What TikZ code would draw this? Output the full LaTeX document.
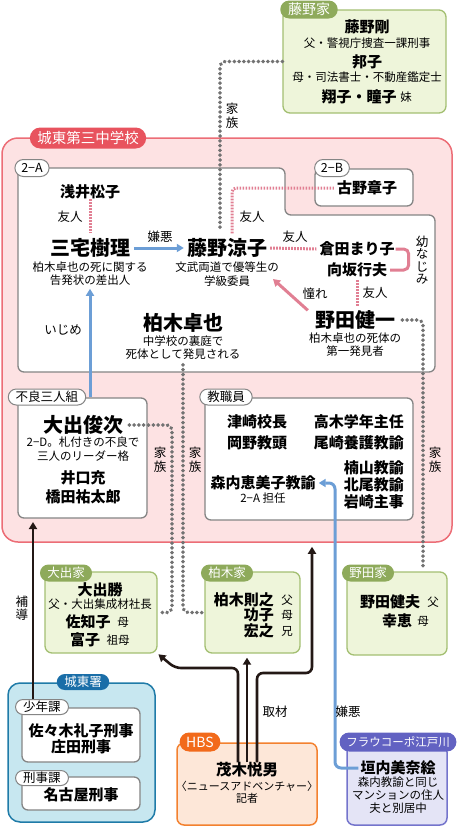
\documentclass[tikz,border=0pt]{standalone}
\usepackage{fontspec}
\setmainfont{Noto Sans CJK JP}
\usetikzlibrary{arrows.meta,shapes.misc}

\definecolor{schoolfill}{HTML}{FDE2E3}
\definecolor{schoolline}{HTML}{EC6D76}
\definecolor{schooltag}{HTML}{E8535E}
\definecolor{boxline}{HTML}{858585}
\definecolor{greenfill}{HTML}{EEF5DA}
\definecolor{greenline}{HTML}{A3BF72}
\definecolor{greentag}{HTML}{8EAA5B}
\definecolor{policefill}{HTML}{C7E7F0}
\definecolor{policeline}{HTML}{1F7BA8}
\definecolor{policetag}{HTML}{1A6EA8}
\definecolor{hbsfill}{HTML}{FDE7D8}
\definecolor{hbsline}{HTML}{F3812F}
\definecolor{hbstag}{HTML}{F26A1B}
\definecolor{fraufill}{HTML}{E4E4F6}
\definecolor{frauline}{HTML}{7474CC}
\definecolor{frautag}{HTML}{6262C2}
\definecolor{friendpink}{HTML}{E17F93}
\definecolor{hateblue}{HTML}{6C9ED6}
\definecolor{familygray}{HTML}{727272}
\definecolor{inkblack}{HTML}{231815}

\newcommand{\jfs}[2]{\fontsize{#1}{#2}\selectfont}

\begin{document}
\begin{tikzpicture}[x=1pt, y=-1pt,
    >={Triangle[length=7pt, width=8pt]},
    bigname/.style={font=\bfseries\jfs{20}{22}, inner sep=0pt},
    midname/.style={font=\bfseries\jfs{15}{17}, inner sep=0pt},
    note/.style={font=\jfs{11.5}{13.5}, align=center, inner sep=0pt},
    lbl/.style={font=\jfs{12.5}{13.5}, align=center, inner sep=0pt},
    tag/.style={rounded rectangle, inner xsep=5pt, inner ysep=0pt, minimum height=17pt, font=\jfs{12.5}{13}},
    whitetag/.style={tag, draw=boxline, fill=white, line width=1pt},
    colortag/.style={tag, fill=#1, text=white},
    schoolbox/.style={draw=schoolline, fill=schoolfill, line width=1.5pt, rounded corners=16pt},
    classbox/.style={draw=boxline, fill=white, line width=1.3pt, rounded corners=6pt},
    familybox/.style={draw=greenline, fill=greenfill, line width=1.3pt, rounded corners=7pt},
    policebox/.style={draw=policeline, fill=policefill, line width=1.5pt, rounded corners=12pt},
    hbsbox/.style={draw=hbsline, fill=hbsfill, line width=1.5pt, rounded corners=7pt},
    fraubox/.style={draw=frauline, fill=fraufill, line width=1.5pt, rounded corners=7pt},
    yujin/.style={draw=friendpink, line width=3pt, dash pattern=on 1.6pt off 1.4pt},
    osana/.style={draw=friendpink, line width=3pt, rounded corners=5pt},
    akogare/.style={draw=friendpink, line width=3pt, ->},
    kazoku/.style={draw=familygray, line width=3.8pt, dash pattern=on 0.2pt off 4.6pt, line cap=round, rounded corners=5pt},
    kenoarrow/.style={draw=hateblue, line width=3pt, ->, rounded corners=6pt},
    shuzai/.style={draw=inkblack, line width=2.6pt, ->, rounded corners=6pt}]
    \useasboundingbox (0,0) rectangle (456,827);

    % 枠
    \node[schoolbox, minimum width=450, minimum height=404] (school) at (227,340) {};
    \draw[classbox] (18,168) -- (285,168) -- (285,215) -- (435,215) -- (435,372) -- (18,372) -- cycle;
    \node[classbox, minimum width=98, minimum height=37] (classb) at (364,187.5) {};
    \node[classbox, minimum width=129, minimum height=120] (furyo) at (82.5,458) {};
    \node[classbox, minimum width=208, minimum height=122] (staff) at (309,459) {};
    \node[familybox, minimum width=163, minimum height=103] (fujinoke) at (364.5,61.5) {};
    \node[familybox, minimum width=112, minimum height=81] (oideke) at (101,612.5) {};
    \node[familybox, minimum width=95, minimum height=81] (kashiwagike) at (252.5,612.5) {};
    \node[familybox, minimum width=100, minimum height=83] (nodake) at (397,613.5) {};
    \node[policebox, minimum width=147, minimum height=139] (johtosho) at (81.5,752.5) {};
    \node[classbox, minimum width=118, minimum height=54] (shonenka) at (81,735) {};
    \node[classbox, minimum width=118, minimum height=33] (keijika) at (81,793.5) {};
    \node[hbsbox, minimum width=140, minimum height=82] (hbs) at (247,784) {};
    \node[fraubox, minimum width=100, minimum height=80] (frau) at (397,785) {};

    % 見出し
    \node[colortag=schooltag, minimum height=21pt, font=\jfs{14.5}{15}] (schooltag) at (88,138) {城東第三中学校};
    \node[whitetag] (classatag) at (32,168) {2−A};
    \node[whitetag] (classbtag) at (332,168) {2−B};
    \node[whitetag, minimum height=16pt] (furyotag) at (47,397) {不良三人組};
    \node[whitetag, minimum height=16pt] (stafftag) at (226,397) {教職員};
    \node[colortag=greentag, minimum height=18pt, font=\jfs{14}{15}] (fujinotag) at (309,9.5) {藤野家};
    \node[colortag=greentag] (oidetag) at (66,573) {大出家};
    \node[colortag=greentag] (kashiwagitag) at (227,573) {柏木家};
    \node[colortag=greentag] (nodatag) at (368,573) {野田家};
    \node[colortag=policetag, minimum height=16pt] (johtoshotag) at (83,682) {城東署};
    \node[whitetag, minimum height=15pt] (shonentag) at (42,707) {少年課};
    \node[whitetag, minimum height=15pt] (keijitag) at (42,778) {刑事課};
    \node[colortag=hbstag, minimum height=19pt, font=\jfs{14}{15}] (hbstag) at (200,742) {HBS};
    \node[colortag=frautag, minimum height=19pt, font=\jfs{11.5}{12}] (frautag) at (398,742) {フラウコーポ江戸川};

    % 藤野家
    \node[midname] (takeshi) at (367,27) {藤野剛};
    \node[note] (takeshisub) at (367,43) {父・警視庁捜査一課刑事};
    \node[midname] (kuniko) at (367,62) {邦子};
    \node[note] (kunikosub) at (367,77) {母・司法書士・不動産鑑定士};
    \node[midname] (shoko) at (359,97) {翔子・瞳子};
    \node[note] (shokosub) at (406,97) {妹};

    % 2-A・2-B
    \node[midname] (matsuko) at (90,192) {浅井松子};
    \node[midname] (akiko) at (367,188) {古野章子};
    \node[bigname] (juri) at (90,248) {三宅樹理};
    \node[note] (jurisub) at (90,273.5) {柏木卓也の死に関する\\告発状の差出人};
    \node[bigname] (ryoko) at (227,248) {藤野涼子};
    \node[note] (ryokosub) at (227,274) {文武両道で優等生の\\学級委員};
    \node[midname] (mariko) at (357,249) {倉田まり子};
    \node[midname] (yukio) at (357,270) {向坂行夫};
    \node[bigname] (kenichi) at (355,320) {野田健一};
    \node[note] (kenichisub) at (355,344.5) {柏木卓也の死体の\\第一発見者};
    \node[bigname] (takuya) at (183,323) {柏木卓也};
    \node[note] (takuyasub) at (183,347.5) {中学校の裏庭で\\死体として発見される};

    % 不良三人組
    \node[bigname] (shunji) at (83,425) {大出俊次};
    \node[note] (shunjisub) at (83,449) {2−D。札付きの不良で\\三人のリーダー格};
    \node[midname] (mitsuru) at (83,478) {井口充};
    \node[midname] (yutaro) at (83,497) {橋田祐太郎};

    % 教職員
    \node[midname] (tsuzaki) at (257,422) {津崎校長};
    \node[midname, anchor=east] (takagi) at (404,422) {高木学年主任};
    \node[midname] (okano) at (257,443) {岡野教頭};
    \node[midname, anchor=east] (ozaki) at (404,443) {尾崎養護教諭};
    \node[midname, anchor=east] (kusuyama) at (404,468) {楠山教諭};
    \node[midname, anchor=east] (kitao) at (404,485) {北尾教諭};
    \node[midname, anchor=east] (iwasaki) at (404,502) {岩崎主事};
    \node[midname] (moriuchi) at (263,483) {森内恵美子教諭};
    \node[note] (moriuchisub) at (263,498) {2−A 担任};

    % 家族
    \node[midname] (masaru) at (100,590) {大出勝};
    \node[note] (masarusub) at (100,604) {父・大出集成材社長};
    \node[midname] (sachiko) at (88,622) {佐知子};
    \node[note] (sachikosub) at (123,622) {母};
    \node[midname] (tomiko) at (85,640) {富子};
    \node[note] (tomikosub) at (118,640) {祖母};
    \node[midname, anchor=east] (noriyuki) at (274,600) {柏木則之};
    \node[note] (noriyukisub) at (287,600) {父};
    \node[midname, anchor=east] (isako) at (274,615) {功子};
    \node[note] (isakosub) at (287,615) {母};
    \node[midname, anchor=east] (hiroyuki) at (274,631) {宏之};
    \node[note] (hiroyukisub) at (287,631) {兄};
    \node[midname] (takeo) at (390,602) {野田健夫};
    \node[note] (takeosub) at (433,602) {父};
    \node[midname] (sachie) at (397,621) {幸恵};
    \node[note] (sachiesub) at (423,621) {母};

    % 城東署・HBS・フラウコーポ江戸川
    \node[midname] (sasaki) at (81,731) {佐々木礼子刑事};
    \node[midname] (shoda) at (81,747) {庄田刑事};
    \node[midname] (nagoya) at (81,795) {名古屋刑事};
    \node[midname, font=\bfseries\jfs{15.5}{17}] (shigeki) at (247,770) {茂木悦男};
    \node[note, font=\jfs{11}{12.5}] (shigekisub) at (247,792.5) {〈ニュースアドベンチャー〉\\記者};
    \node[midname] (minae) at (398,768) {垣内美奈絵};
    \node[note, font=\jfs{11.5}{13}] (minaesub) at (398,795) {森内教諭と同じ\\マンションの住人\\夫と別居中};

    % 線の折れ点
    \coordinate (akotip) at (273,279);
    \coordinate (nodatop) at (423,569);
    \coordinate (oidebend) at (172,612.5);
    \coordinate (kenobend) at (335,620);
    \coordinate (hodostart) at (33,699);
    \coordinate (hodoend) at (33,522);
    \coordinate (shuzaiL) at (175,668);
    \coordinate (shuzaiR) at (312,673);

    % 関係線
    \draw[kazoku] (fujinoke.west) -| ([xshift=-7pt, yshift=9pt]ryoko.north);
    \draw[yujin, shorten >=5pt] (matsuko.south) -- (juri.north);
    \draw[yujin, rounded corners=4pt, shorten <=5pt, shorten >=3pt] ([xshift=5pt]ryoko.north) |- (akiko.west);
    \draw[kenoarrow] ([xshift=4pt]juri.east) -- ([xshift=-3pt]ryoko.west);
    \draw[yujin] ([xshift=3pt]ryoko.east) -- ([xshift=-3pt]mariko.west);
    \draw[osana] ([xshift=1pt]mariko.east) -- ++(13,0) |- ([xshift=3pt]yukio.east);
    \draw[yujin, shorten <=3pt, shorten >=3pt] (yukio.south) -- (yukio.south |- kenichi.north);
    \draw[akogare] ([xshift=-7pt]kenichi.north west) -- (akotip);
    \draw[kazoku] ([xshift=7pt]kenichi.east) -| (nodatop);
    \draw[kazoku] ([yshift=-5pt]takuyasub.south) |- ([xshift=-2pt]kashiwagike.west);
    \draw[kazoku] ([xshift=6pt]shunji.east) -| (oidebend) -- ([xshift=2pt]oideke.east);
    \draw[kenoarrow] (jurisub.south |- furyo.north) -- ([yshift=-3pt]jurisub.south);
    \draw[kenoarrow] ([xshift=-2pt]minae.west) -| (kenobend) |- ([xshift=3pt]moriuchi.east);
    \draw[shuzai] (hodostart) -- (hodoend);
    \draw[shuzai, shorten >=1pt] ([xshift=-9pt]shigeki.north) |- (shuzaiL) -- (oideke.south east);
    \draw[shuzai, shorten >=4pt] (shigeki.north) -- (shigeki.north |- kashiwagike.south);
    \draw[shuzai, shorten >=4pt] ([xshift=10pt]shigeki.north) |- (shuzaiR) -- (shuzaiR |- school.south);

    % 関係の名前
    \node[lbl] (kazokuF) at (232,116) {家\\族};
    \node[lbl] (yujinA) at (70,217) {友人};
    \node[lbl] (yujinB) at (252,217) {友人};
    \node[lbl] (kenoA) at (160,237) {嫌悪};
    \node[lbl] (yujinC) at (295,237) {友人};
    \node[lbl, font=\jfs{12.5}{12.5}] (osanalbl) at (422,260) {幼\\な\\じ\\み};
    \node[lbl] (yujinD) at (375,293) {友人};
    \node[lbl] (akogarelbl) at (315,294) {憧れ};
    \node[lbl] (ijime) at (63,330) {いじめ};
    \node[lbl] (kazokuO) at (160,460) {家\\族};
    \node[lbl] (kazokuK) at (195,460) {家\\族};
    \node[lbl] (kazokuN) at (435,460) {家\\族};
    \node[lbl] (hodo) at (22,608) {補\\導};
    \node[lbl] (shuzailbl) at (275,712) {取材};
    \node[lbl] (kenoB) at (348,712) {嫌悪};
\end{tikzpicture}
\end{document}
